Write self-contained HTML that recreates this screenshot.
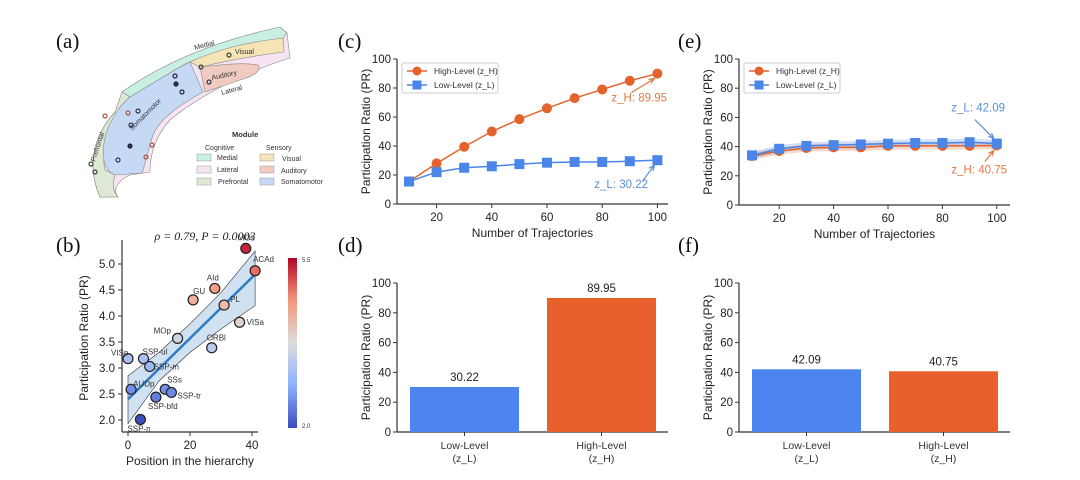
<!DOCTYPE html>
<html><head><meta charset="utf-8">
<style>
body{margin:0;background:#fff;}
svg{display:block;font-family:"Liberation Sans",sans-serif;}
.tk{font-size:11.5px;fill:#222;}
.at{font-size:12px;fill:#222;}
.pl{font-family:"Liberation Serif",serif;font-size:21px;fill:#111;}
</style></head>
<body>
<svg id="fig" width="1080" height="480" viewBox="0 0 1080 480">
<defs>
<linearGradient id="cw" x1="0" y1="1" x2="0" y2="0">
<stop offset="0" stop-color="#3b4cc0"/><stop offset="0.25" stop-color="#8db0fe"/><stop offset="0.5" stop-color="#dddddd"/><stop offset="0.75" stop-color="#f4987a"/><stop offset="1" stop-color="#b40426"/>
</linearGradient>
</defs>
<text class="pl" x="56" y="48">(a)</text>
<text class="pl" x="56" y="252">(b)</text>
<text class="pl" x="338" y="48">(c)</text>
<text class="pl" x="338" y="252">(d)</text>
<text class="pl" x="678" y="48">(e)</text>
<text class="pl" x="678" y="252">(f)</text>

<g id="flatmap" stroke="#888" stroke-width="0.6">
<path fill="#f6e4f2" d="M100,197 C88,170 90,140 115,112 C150,82 200,50 280,27 L287,33 L290,58 C250,70 200,95 170,120 C152,140 150,160 150,172 L130,175 C118,180 112,190 118,197 Z"/>
<path fill="#c9efe2" d="M122,92 C160,65 210,42 280,27 L287,33 L283,38 C240,45 200,55 178,68 L130,97 Z"/>
<path fill="#dde9d5" d="M100,197 C88,170 90,140 115,112 L122,92 L130,97 C110,125 100,150 105,170 L115,175 C112,185 113,192 118,197 Z"/>
<path fill="#c6d9f4" d="M130,97 L178,68 L190,62 L203,92 C180,105 160,118 153,135 C148,150 145,165 142,173 L115,175 C102,170 100,150 108,128 C114,115 120,105 130,97 Z"/>
<path fill="#f6e3b6" d="M190,62 C220,48 250,42 283,38 L284,52 C260,55 230,60 200,67 Z"/>
<path fill="#f1cbc0" d="M200,67 C220,65 240,62 258,65 C262,70 255,76 240,80 L205,92 Z"/>
<g font-size="7" fill="#333" stroke="none">
<text x="195" y="50" transform="rotate(-15 195 50)">Medial</text>
<text x="235" y="54">Visual</text>
<text x="212" y="80" transform="rotate(-12 212 80)">Auditory</text>
<text x="222" y="95" transform="rotate(-15 222 95)">Lateral</text>
<text x="132" y="131" transform="rotate(-45 132 131)">Somatomotor</text>
<text x="95" y="162" transform="rotate(-72 95 162)">Prefrontal</text>
</g>
<g fill="none" stroke-width="1.2">
<circle cx="175" cy="76" r="2" stroke="#223"/><circle cx="176" cy="84" r="2" fill="#335" stroke="#223"/><circle cx="182" cy="92" r="2" stroke="#223"/>
<circle cx="128" cy="113" r="2" stroke="#a54"/><circle cx="138" cy="111" r="2" stroke="#335"/><circle cx="131" cy="125" r="2" stroke="#335"/>
<circle cx="130" cy="146" r="2" fill="#335" stroke="#223"/><circle cx="118" cy="160" r="2" stroke="#335"/>
<circle cx="105" cy="116" r="2" stroke="#a54"/><circle cx="91" cy="164" r="2" stroke="#343"/><circle cx="95" cy="172" r="2" stroke="#343"/>
<circle cx="146" cy="157" r="2" stroke="#a54"/><circle cx="152" cy="145" r="2" stroke="#a54"/><circle cx="201" cy="67" r="2" stroke="#343"/><circle cx="229" cy="55" r="2" stroke="#343"/><circle cx="209" cy="82" r="2" stroke="#335"/>
</g>
</g>
<g id="module-legend" font-size="7" fill="#333">
<text x="232" y="137" font-weight="bold" font-size="7.5">Module</text>
<text x="205" y="150">Cognitive</text><text x="266" y="150">Sensory</text>
<rect x="197" y="154" width="14" height="7" fill="#c9efe2" stroke="#999" stroke-width="0.5"/><text x="217" y="160">Medial</text>
<rect x="197" y="166" width="14" height="7" fill="#f6e4f2" stroke="#999" stroke-width="0.5"/><text x="217" y="172">Lateral</text>
<rect x="197" y="178" width="14" height="7" fill="#dde9d5" stroke="#999" stroke-width="0.5"/><text x="218" y="184">Prefrontal</text>
<rect x="260" y="154" width="14" height="7" fill="#f6e3b6" stroke="#999" stroke-width="0.5"/><text x="282" y="161">Visual</text>
<rect x="260" y="166" width="14" height="7" fill="#f1cbc0" stroke="#999" stroke-width="0.5"/><text x="281" y="173">Auditory</text>
<rect x="260" y="178" width="14" height="7" fill="#c6d9f4" stroke="#999" stroke-width="0.5"/><text x="281" y="184">Somatomotor</text>
</g>

<g id="pb"></g>
<g id="pc"></g>
<g id="pd"></g>
<g id="pe"></g>
<g id="pf"></g>
</svg>
<script>
const trajCounts=[10,20,30,40,50,60,70,80,90,100];
const cHigh=[15.5,28,39.5,50,58.5,66,73,79,85,89.95];
const cLow=[15.5,22,25,26,27.5,28.5,29,29,29.5,30.22];
const eHigh=[33.5,37,39,39.5,39.5,40.5,40.5,40.5,40.5,40.75];
const eLow=[34,38.5,40.5,41,41.5,42,42.5,42.5,43,42.09];
const eBand=[2.5,2.5,2.5,2.5,2.5,2.5,2.5,2.5,2.5,2.5];
const yTicks=[0,20,40,60,80,100];
const xTicks=[20,40,60,80,100];
const barCats=["Low-Level|(z_L)","High-Level|(z_H)"];
const dVals=[30.22,89.95];
const fVals=[42.09,40.75];
const areaNames=["MOs","ACAd","AId","GU","PL","VISa","MOp","ORBl","VISp","SSP-ul","SSP-m","AUDp","SSs","SSP-tr","SSP-bfd","SSP-n"];
const areaPos=[38,41,28,21,31,36,16,27,0,5,7,1,12,14,9,4];
const areaPR=[5.3,4.87,4.53,4.31,4.21,3.88,3.57,3.39,3.18,3.18,3.03,2.59,2.59,2.53,2.44,2.01];
const bTicksY=[2.0,2.5,3.0,3.5,4.0,4.5,5.0];
const bTicksX=[0,20,40];
const fitEnds=[2.4,4.8];
const ciX=[0,10,20,30,41];
const ciUp=[2.85,3.3,3.85,4.45,5.25];
const ciLo=[1.93,2.75,3.3,3.75,4.2];

const NS="http://www.w3.org/2000/svg";
function mk(parent,tag,attrs,name,text){
  const el=document.createElementNS(NS,tag);
  for(const k in attrs) el.setAttribute(k,attrs[k]);
  
  
  if(text!==undefined) el.textContent=text;
  parent.appendChild(el); return el;
}
const ORANGE="#e4632d", BLUE="#4a86e8";

function lineChart(g,o){
  const X=v=>o.x0+(v-10)/10*o.dx, Y=v=>o.yb-(v/100)*(o.yb-o.yt);
  mk(g,'line',{x1:o.sl,y1:o.yt,x2:o.sl,y2:o.yb,stroke:'#333','stroke-width':1.2},'y-axis-line');
  mk(g,'line',{x1:o.sl,y1:o.yb,x2:o.sr,y2:o.yb,stroke:'#333','stroke-width':1.2},'x-axis-line');
  yTicks.forEach(t=>{mk(g,'line',{x1:o.sl-4,y1:Y(t),x2:o.sl,y2:Y(t),stroke:'#333'},'y-tick');
    mk(g,'text',{x:o.sl-6,y:Y(t)+4,'text-anchor':'end',class:'tk'},'y-tick-label',t);});
  xTicks.forEach(t=>{mk(g,'line',{x1:X(t),y1:o.yb,x2:X(t),y2:o.yb+4,stroke:'#333'},'x-tick');
    mk(g,'text',{x:X(t),y:o.yb+17,'text-anchor':'middle',class:'tk'},'x-tick-label',t);});
  mk(g,'text',{x:(o.sl+o.sr)/2,y:o.yb+33,'text-anchor':'middle',class:'at'},'x-axis-title','Number of Trajectories');
  mk(g,'text',{x:0,y:0,'text-anchor':'middle',class:'at',transform:`translate(${o.sl-27},${(o.yt+o.yb)/2}) rotate(-90)`},'y-axis-title','Participation Ratio (PR)');
  const series=[[o.high,ORANGE,'circle','high-level'],[o.low,BLUE,'square','low-level']];
  if(o.band){series.forEach(([d,c,,n])=>{
    let p=trajCounts.map((x,i)=>`${X(x)},${Y(d[i]+o.band[i])}`).join(' ')+' '+trajCounts.slice().reverse().map((x,j)=>{const i=trajCounts.length-1-j;return `${X(x)},${Y(d[i]-o.band[i])}`}).join(' ');
    mk(g,'polygon',{points:p,fill:c,'fill-opacity':0.25},n+'-ci-band');});}
  series.forEach(([d,c,shape,n])=>{
    mk(g,'polyline',{points:trajCounts.map((x,i)=>`${X(x)},${Y(d[i])}`).join(' '),fill:'none',stroke:c,'stroke-width':1.5},n+'-line');
    trajCounts.forEach((x,i)=>{
      if(shape==='circle') mk(g,'circle',{cx:X(x),cy:Y(d[i]),r:5,fill:c},n+'-point');
      else mk(g,'rect',{x:X(x)-5,y:Y(d[i])-5,width:10,height:10,fill:c},n+'-point');
    });
  });
  const lx=o.sl+5, ly=o.yt+4;
  mk(g,'rect',{x:lx,y:ly,width:96,height:30,fill:'#fff',stroke:'#ccc',rx:2},'legend-box');
  mk(g,'line',{x1:lx+5,y1:ly+8,x2:lx+25,y2:ly+8,stroke:ORANGE,'stroke-width':1.5},'legend-high-line');
  mk(g,'circle',{cx:lx+15,cy:ly+8,r:4.5,fill:ORANGE},'legend-high-marker');
  mk(g,'text',{x:lx+32,y:ly+11,'font-size':8.5,fill:'#333'},'legend-high-label','High-Level (z_H)');
  mk(g,'line',{x1:lx+5,y1:ly+22,x2:lx+25,y2:ly+22,stroke:BLUE,'stroke-width':1.5},'legend-low-line');
  mk(g,'rect',{x:lx+10.5,y:ly+17.5,width:9,height:9,fill:BLUE},'legend-low-marker');
  mk(g,'text',{x:lx+32,y:ly+25,'font-size':8.5,fill:'#333'},'legend-low-label','Low-Level (z_L)');
  o.ann.forEach(a=>{
    const v=a.series==='h'?o.high[9]:o.low[9];
    const c=a.series==='h'?'#e07a45':'#5a8fd8';
    const tx=X(100),ty=Y(v);
    mk(g,'text',{x:a.tx,y:ty+a.dy,'text-anchor':'end','font-size':11.5,fill:c},'annotation-'+(a.series==='h'?'high':'low'),(a.series==='h'?'z_H: ':'z_L: ')+v.toFixed(2));
    const hx=tx-3,hy=ty+(a.ay>0?5:-5);
    mk(g,'line',{x1:tx-a.ax,y1:ty+a.ay,x2:hx,y2:hy,stroke:c,'stroke-width':1.2},'annotation-arrow');
    const ang=Math.atan2(hy-(ty+a.ay), hx-(tx-a.ax));
    mk(g,'polyline',{points:`${hx-6*Math.cos(ang-0.4)},${hy-6*Math.sin(ang-0.4)} ${hx},${hy} ${hx-6*Math.cos(ang+0.4)},${hy-6*Math.sin(ang+0.4)}`,fill:'none',stroke:c,'stroke-width':1.2},'annotation-arrowhead');
  });
}
lineChart(document.getElementById('pc'),{x0:409,dx:27.6,yb:204,yt:59,sl:397,sr:668,high:cHigh,low:cLow,
  ann:[{series:'h',tx:667,dy:28,ax:26,ay:19},{series:'l',tx:648,dy:28,ax:15,ay:21}]});
lineChart(document.getElementById('pe'),{x0:752,dx:27.2,yb:205,yt:59,sl:739,sr:1010,high:eHigh,low:eLow,band:eBand,
  ann:[{series:'l',tx:1005,dy:-32,ax:22,ay:-24},{series:'h',tx:1007,dy:28,ax:12,ay:16}]});

function barChart(g,o,vals){
  const Y=v=>o.yb-(v/100)*(o.yb-o.yt);
  mk(g,'line',{x1:o.sl,y1:o.yt,x2:o.sl,y2:o.yb,stroke:'#333','stroke-width':1.2},'y-axis-line');
  mk(g,'line',{x1:o.sl,y1:o.yb,x2:o.sr,y2:o.yb,stroke:'#333','stroke-width':1.2},'x-axis-line');
  yTicks.forEach(t=>{mk(g,'line',{x1:o.sl-4,y1:Y(t),x2:o.sl,y2:Y(t),stroke:'#333'},'y-tick');
    mk(g,'text',{x:o.sl-6,y:Y(t)+4,'text-anchor':'end',class:'tk'},'y-tick-label',t);});
  mk(g,'text',{x:0,y:0,'text-anchor':'middle',class:'at',transform:`translate(${o.sl-27},${(o.yt+o.yb)/2}) rotate(-90)`},'y-axis-title','Participation Ratio (PR)');
  const cols=['#4c84f0','#e8602c'];
  vals.forEach((v,i)=>{
    const cx=o.c0+i*o.gap, w=109;
    mk(g,'rect',{x:cx-w/2,y:Y(v),width:w,height:o.yb-Y(v),fill:cols[i]},i?'bar-high-level':'bar-low-level');
    mk(g,'text',{x:cx,y:Y(v)-6,'text-anchor':'middle',class:'tk'},'bar-value-label',v.toFixed(2));
    mk(g,'line',{x1:cx,y1:o.yb,x2:cx,y2:o.yb+4,stroke:'#333'},'x-tick');
    const [l1,l2]=barCats[i].split('|');
    mk(g,'text',{x:cx,y:o.yb+17,'text-anchor':'middle','font-size':10.5,fill:'#333'},'x-tick-label',l1);
    mk(g,'text',{x:cx,y:o.yb+30,'text-anchor':'middle','font-size':10.5,fill:'#333'},'x-tick-label',l2);
  });
}
barChart(document.getElementById('pd'),{yb:432,yt:283,sl:397,sr:668,c0:464.5,gap:137},dVals);
barChart(document.getElementById('pf'),{yb:432,yt:283,sl:739,sr:1010,c0:806.5,gap:137},fVals);

(function(){
  const g=document.getElementById('pb');
  const X=v=>128+v*3.1, Y=v=>420-(v-2)/0.5*26;
  mk(g,'text',{x:205,y:240,'text-anchor':'middle','font-family':'Liberation Serif,serif','font-size':12,fill:'#222','font-style':'italic'},'correlation-stat','ρ = 0.79,  P = 0.0003');
  mk(g,'line',{x1:122,y1:240,x2:122,y2:432,stroke:'#333','stroke-width':1.2},'y-axis-line');
  mk(g,'line',{x1:122,y1:432,x2:258,y2:432,stroke:'#333','stroke-width':1.2},'x-axis-line');
  bTicksY.forEach(t=>{mk(g,'line',{x1:118,y1:Y(t),x2:122,y2:Y(t),stroke:'#333'},'y-tick');
    mk(g,'text',{x:115,y:Y(t)+4,'text-anchor':'end',class:'tk'},'y-tick-label',t.toFixed(1));});
  bTicksX.forEach(t=>{mk(g,'line',{x1:X(t),y1:432,x2:X(t),y2:436,stroke:'#333'},'x-tick');
    mk(g,'text',{x:X(t),y:449,'text-anchor':'middle',class:'tk'},'x-tick-label',t);});
  mk(g,'text',{x:190,y:465,'text-anchor':'middle',class:'at'},'x-axis-title','Position in the hierarchy');
  mk(g,'text',{x:0,y:0,'text-anchor':'middle',class:'at',transform:'translate(88,338) rotate(-90)'},'y-axis-title','Participation Ratio (PR)');
  const pts=ciX.map((x,i)=>`${X(x)},${Y(ciUp[i])}`).concat(ciX.slice().reverse().map((x,j)=>`${X(x)},${Y(ciLo[ciX.length-1-j])}`)).join(' ');
  mk(g,'polygon',{points:pts,fill:'#a9cbe6','fill-opacity':0.55,stroke:'#333','stroke-width':0.6},'confidence-band');
  mk(g,'line',{x1:X(0),y1:Y(fitEnds[0]),x2:X(41),y2:Y(fitEnds[1]),stroke:'#2f7cc6','stroke-width':2.5},'regression-line');
  function cmap(v){const t=(v-2)/3.5;
    const stops=[[59,76,192],[141,176,254],[221,221,221],[244,152,122],[180,4,38]];
    const s=Math.min(3.999,Math.max(0,t*4)),i=Math.floor(s),f=s-i;
    return `rgb(${stops[i].map((c,k)=>Math.round(c+(stops[i+1][k]-c)*f)).join(',')})`;}
  const offs={"VISp":[-17,-3],"SSP-ul":[-1,-4],"SSP-m":[4,3],"AUDp":[2,-3],"SSs":[2,-7],"SSP-tr":[6,6],"SSP-bfd":[-8,12],"SSP-n":[-13,12],"MOp":[-24,-5],"ORBl":[-5,-7],"VISa":[7,3],"PL":[6,-3],"GU":[0,-6],"AId":[-8,-8],"MOs":[-8,-8],"ACAd":[-2,-9]};
  areaNames.forEach((n,i)=>{
    mk(g,'circle',{cx:X(areaPos[i]),cy:Y(areaPR[i]),r:5,fill:cmap(areaPR[i]),stroke:'#222','stroke-width':1.2},'point-'+n.toLowerCase());
    const o=offs[n]||[5,-5];
    mk(g,'text',{x:X(areaPos[i])+o[0],y:Y(areaPR[i])+o[1],'font-size':8,fill:'#333'},'point-label',n);
  });
  mk(g,'rect',{x:288,y:258,width:9,height:170,fill:'url(#cw)'},'colorbar');
  mk(g,'text',{x:302,y:262,'font-size':6,fill:'#333'},'colorbar-max-label','5.5');
  mk(g,'text',{x:302,y:428,'font-size':6,fill:'#333'},'colorbar-min-label','2.0');
})();
</script>
</body></html>
